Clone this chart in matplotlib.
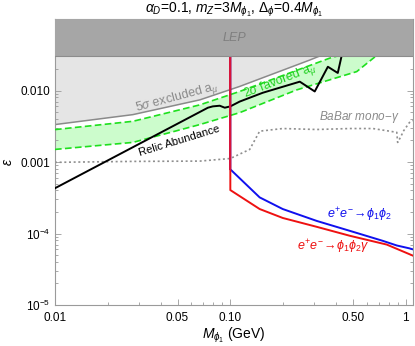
import matplotlib
matplotlib.use("Agg")
import matplotlib.pyplot as plt
import numpy as np

plt.rcParams["font.family"] = ["Liberation Sans", "DejaVu Sans"]
plt.rcParams["mathtext.fontset"] = "custom"
plt.rcParams["mathtext.rm"] = "Liberation Sans"
plt.rcParams["mathtext.it"] = "Liberation Sans:italic"
plt.rcParams["mathtext.fallback"] = "stixsans"

# --- data ---
lep_lo, lep_hi = 0.03, 0.1

# 5 sigma excluded a_mu boundary
excl_m = [0.01, 0.0278, 0.067, 0.113, 0.284, 0.33]
excl_e = [3.34e-3, 4.6e-3, 7.4e-3, 0.0114, 0.0267, 0.031]

# 2 sigma favored a_mu band
fav_up_m = [0.01, 0.0278, 0.067, 0.113, 0.369, 0.42]
fav_up_e = [2.84e-3, 3.71e-3, 6.3e-3, 9.7e-3, 0.0284, 0.031]
fav_lo_m = [0.01, 0.0278, 0.067, 0.113, 0.239, 0.526, 0.684]
fav_lo_e = [1.5e-3, 1.88e-3, 3.34e-3, 4.9e-3, 0.0102, 0.0184, 0.031]

# relic abundance
relic_m = [0.01, 0.0745, 0.0794, 0.087, 0.093, 0.1, 0.113, 0.153, 0.249, 0.303, 0.36, 0.41, 0.43, 0.435]
relic_e = [4.3e-4, 5.75e-3, 6.0e-3, 6.13e-3, 5.75e-3, 6.0e-3, 7.0e-3, 9.3e-3, 0.0133, 9.7e-3, 0.0215, 0.0176, 0.0296, 0.032]

# BaBar mono-gamma
babar_m = [0.01, 0.0278, 0.067, 0.1, 0.129, 0.147, 0.199, 0.311, 0.48, 0.65, 0.81, 0.89, 0.9, 0.94, 0.97, 1.05, 1.1]
babar_e = [9.9e-4, 1.02e-3, 1.03e-3, 1.12e-3, 1.5e-3, 2.7e-3, 2.94e-3, 2.85e-3, 2.94e-3, 2.94e-3, 2.7e-3, 2.6e-3, 1.88e-3, 2.28e-3, 2.7e-3, 3.56e-3, 3.8e-3]

# e+e- -> phi1 phi2
blue_m = [0.1, 0.1, 0.147, 0.199, 0.311, 0.48, 0.74, 0.89, 1.05, 1.1]
blue_e = [0.03, 7.9e-4, 3.2e-4, 2.2e-4, 1.5e-4, 1.09e-4, 7.9e-5, 6.8e-5, 6.2e-5, 6.0e-5]

# e+e- -> phi1 phi2 gamma
red_m = [0.1, 0.1, 0.147, 0.199, 0.311, 0.48, 0.78, 1.1]
red_e = [0.03, 4.05e-4, 2.2e-4, 1.65e-4, 1.24e-4, 9.3e-5, 7.0e-5, 4.9e-5]

xticks = [0.01, 0.05, 0.1, 0.5, 1]
xticklabels = ["0.01", "0.05", "0.10", "0.50", "1"]
yticks = [1e-5, 1e-4, 1e-3, 1e-2]
yticklabels = [r"$10^{-5}$", r"$10^{-4}$", "0.001", "0.010"]

fig = plt.figure(figsize=(4.15, 3.46), dpi=100)
ax = fig.add_axes([0.1325, 0.1185, 0.8625, 0.8265])
ax.set_xscale("log")
ax.set_yscale("log")
ax.set_xlim(0.01, 1.1)
ax.set_ylim(1e-5, 0.1)

# excluded region
ax.fill(excl_m + [excl_m[-1], excl_m[0]], excl_e + [lep_lo, lep_lo],
        color="#e5e5e5", lw=0, zorder=1)
ax.plot(excl_m, excl_e, color="#8a8a8a", lw=1.1, zorder=2)

# favored band
ax.fill(fav_up_m + fav_lo_m[::-1], fav_up_e + fav_lo_e[::-1],
        color="#ccfccc", lw=0, zorder=1)
ax.plot(fav_up_m, fav_up_e, color="#1ee01e", lw=1.2, ls=(0, (4, 2)), zorder=3)
ax.plot(fav_lo_m, fav_lo_e, color="#1ee01e", lw=1.2, ls=(0, (4, 2)), zorder=3)

ax.plot(babar_m, babar_e, color="#8f8f8f", lw=1.2, ls=(0, (1.2, 1.6)), zorder=2)
ax.plot(relic_m, relic_e, color="black", lw=1.4, zorder=4)
ax.plot(blue_m, blue_e, color="#1010ee", lw=1.4, zorder=4)
ax.plot(red_m, red_e, color="#ee1111", lw=1.4, zorder=5)
ax.plot(red_m[:2], [red_e[0], blue_e[1]], color="#d8143c", lw=1.4, zorder=6)

# LEP
ax.axhspan(lep_lo, lep_hi, color="#a6a6a6", lw=0, zorder=7)
ax.axhline(lep_lo, color="#8c8c8c", lw=0.8, zorder=7)
ax.text(0.106, 0.054, "LEP", color="#7f7f7f", style="italic", fontsize=9,
        ha="center", va="center", zorder=8)

ax.text(0.0496, 7.9e-3, r"5$\sigma$ excluded a$_\mu$", color="#8a8a8a",
        fontsize=9, rotation=15, ha="center", va="center", zorder=8)
ax.text(0.191, 0.0133, r"2$\sigma$ favored a$_\mu$", color="#22d022",
        fontsize=9, rotation=21, ha="center", va="center", zorder=8)
ax.text(0.051, 1.95e-3, "Relic Abundance", color="black",
        fontsize=8, rotation=17, ha="center", va="center", zorder=8)
ax.text(0.547, 4.2e-3, r"BaBar mono$-\gamma$", color="#8a8a8a",
        fontsize=8.5, style="italic", ha="center", va="center", zorder=8)
ax.text(0.547, 1.82e-4, r"$e^{+}e^{-}\!\rightarrow\!\phi_{1}\phi_{2}$", color="#1010ee",
        fontsize=9, ha="center", va="center", zorder=8)
ax.text(0.384, 6.4e-5, r"$e^{+}e^{-}\!\rightarrow\!\phi_{1}\phi_{2}\gamma$", color="#ee1111",
        fontsize=9, ha="center", va="center", zorder=8)

ax.set_xticks(xticks)
ax.set_xticklabels(xticklabels)
ax.set_yticks(yticks)
ax.set_yticklabels(yticklabels)
ax.tick_params(which="both", direction="in", top=True, right=True,
               color="#9a9a9a", labelsize=8.5, width=0.6)
ax.tick_params(which="major", length=4)
ax.tick_params(which="minor", length=2)
ax.tick_params(axis="x", pad=5)
for s in ax.spines.values():
    s.set_color("#9a9a9a")
    s.set_linewidth(0.8)

ax.set_xlabel(r"$M_{\phi_1}$ (GeV)", fontsize=10, labelpad=1)
ax.set_ylabel(r"$\epsilon$", fontsize=10, rotation=90)
ax.set_title(r"$\alpha_D$=0.1, $m_Z$=3$M_{\phi_1}$, $\Delta_\phi$=0.4$M_{\phi_1}$",
             fontsize=10, pad=4)

fig.savefig("out.png", dpi=100)
